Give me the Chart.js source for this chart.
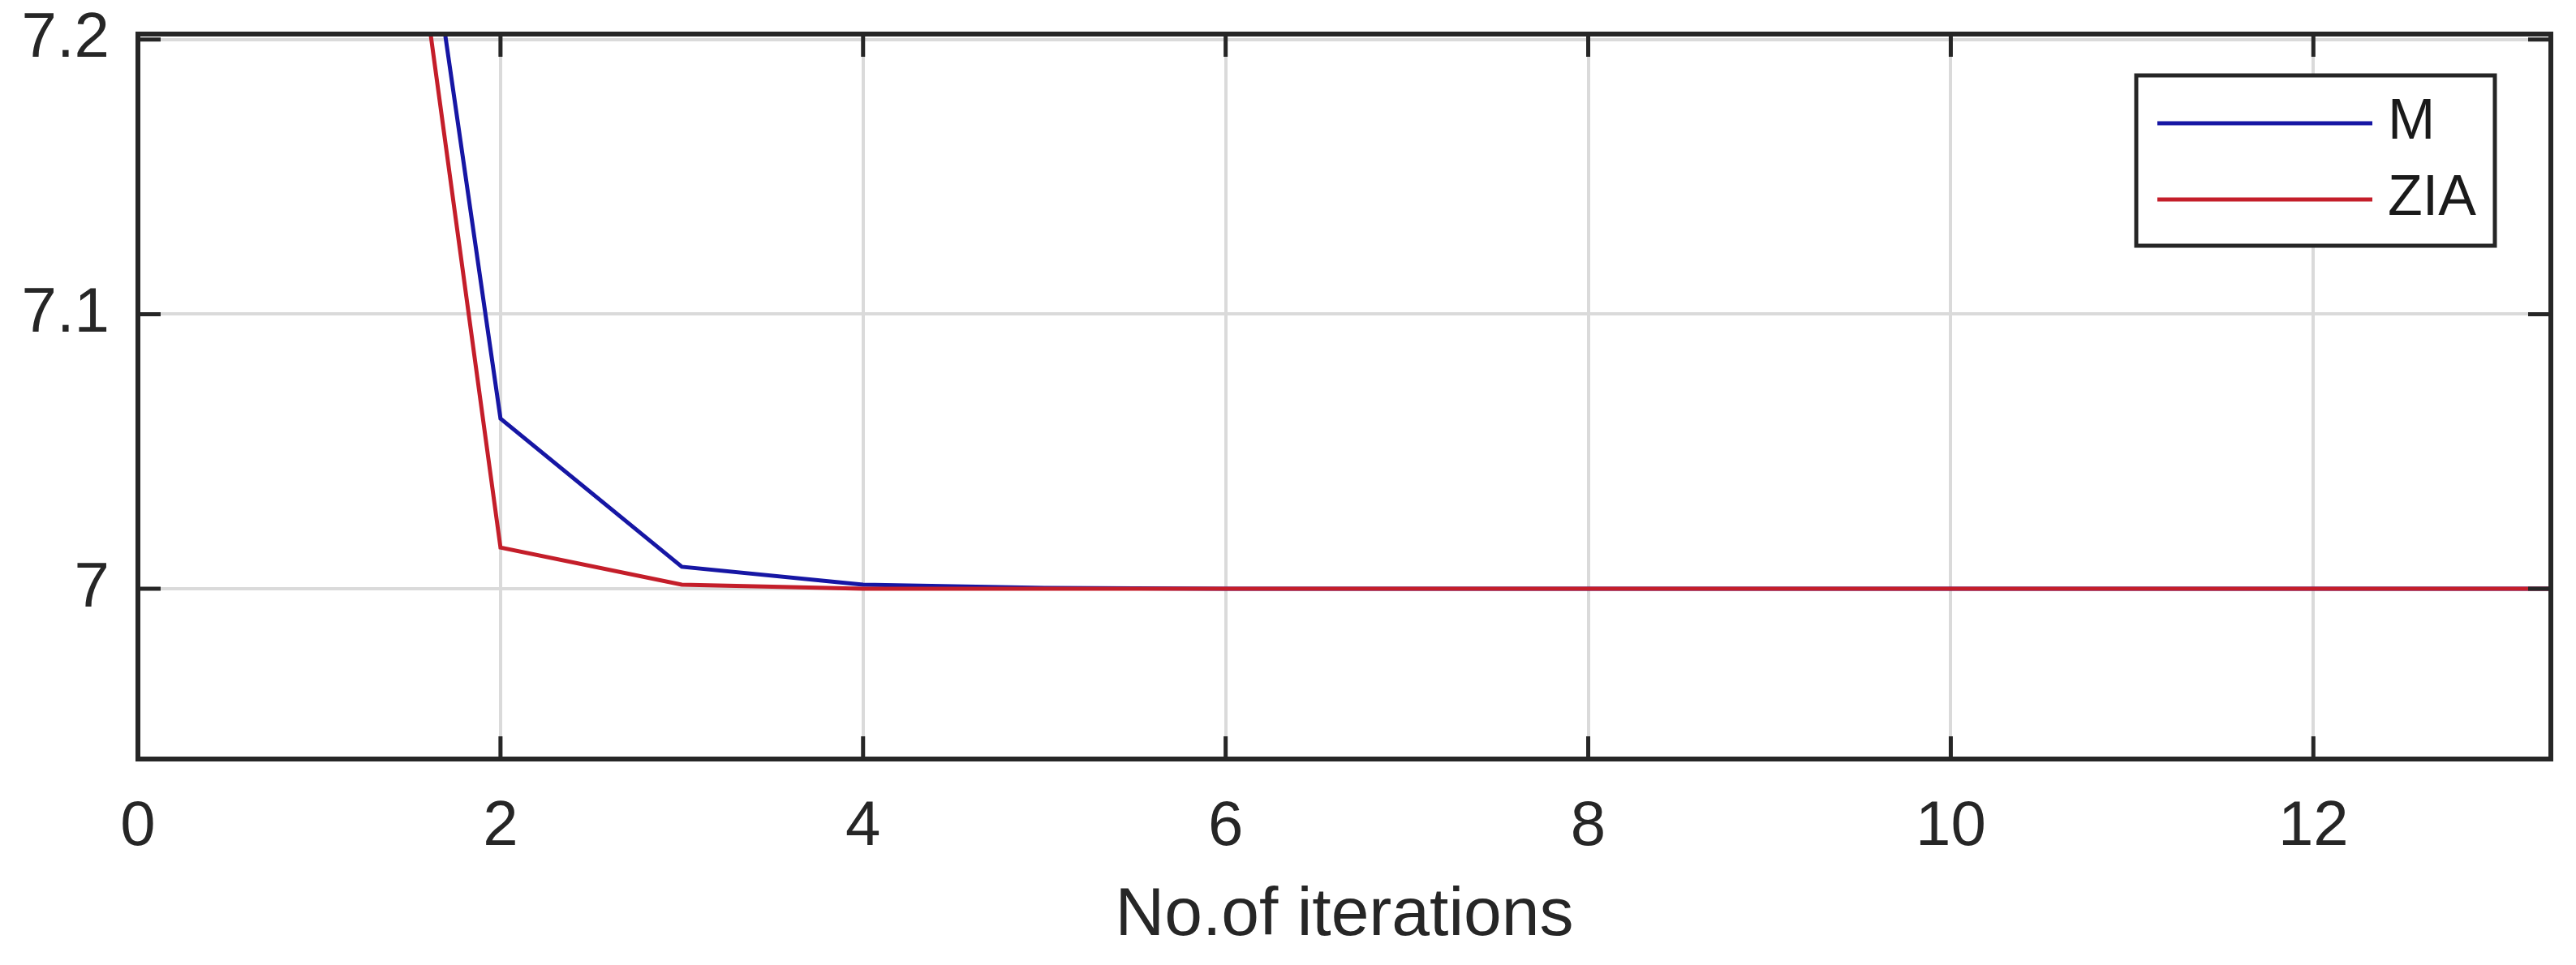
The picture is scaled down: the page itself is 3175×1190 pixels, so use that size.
<!DOCTYPE html>
<html>
<head>
<meta charset="utf-8">
<script src="https://cdn.jsdelivr.net/npm/chart.js@4.4.1/dist/chart.umd.min.js"></script>
<style>
  html, body { margin: 0; padding: 0; background: #ffffff; overflow: hidden; }
  canvas { display: block; }
</style>
</head>
<body>
<canvas id="chart" width="3175" height="1190"></canvas>
<script>
// ---- data ----
const iterations = [1, 2, 3, 4, 5, 6, 7, 8, 9, 10, 11, 12, 13, 14];
const seriesM    = [7.52, 7.062, 7.008, 7.0015, 7.0003, 7, 7, 7, 7, 7, 7, 7, 7, 7];
const seriesZIA  = [7.50, 7.015, 7.0015, 7.0, 7, 7, 7, 7, 7, 7, 7, 7, 7, 7];
const seriesLabels = ['M', 'ZIA'];
const xTickValues = [0, 2, 4, 6, 8, 10, 12];
const yTickValues = [7, 7.1, 7.2];
const xRange = [0, 13.31];
const yRange = [6.938, 7.202];
const xTitle = 'No.of iterations';

// ---- styling ----
const FONT = '"Liberation Sans", Arial, Helvetica, sans-serif';
const AXIS_COLOR = '#262626';
const colorM = '#1616a4';
const colorZIA = '#c41e2a';

const toPoints = (xs, ys) => xs.map((x, i) => ({ x: x, y: ys[i] }));

const axesPlugin = {
  id: 'axesPlugin',
  beforeDraw(chart) {
    const ctx = chart.ctx;
    ctx.save();
    ctx.fillStyle = '#ffffff';
    ctx.fillRect(0, 0, chart.width, chart.height);
    ctx.restore();
  },
  afterDatasetsDraw(chart) {
    const { ctx, chartArea: ca, scales } = chart;
    ctx.save();
    // inward tick marks on all four sides (MATLAB box style)
    const tl = 28;
    ctx.strokeStyle = AXIS_COLOR;
    ctx.lineWidth = 5;
    ctx.beginPath();
    scales.x.ticks.forEach(t => {
      const p = scales.x.getPixelForValue(t.value);
      ctx.moveTo(p, ca.bottom); ctx.lineTo(p, ca.bottom - tl);
      ctx.moveTo(p, ca.top); ctx.lineTo(p, ca.top + tl);
    });
    scales.y.ticks.forEach(t => {
      const p = scales.y.getPixelForValue(t.value);
      ctx.moveTo(ca.left, p); ctx.lineTo(ca.left + tl, p);
      ctx.moveTo(ca.right, p); ctx.lineTo(ca.right - tl, p);
    });
    ctx.stroke();
    // axes box
    ctx.lineWidth = 6;
    ctx.strokeRect(ca.left, ca.top, ca.right - ca.left, ca.bottom - ca.top);

    // legend (inside, top-right)
    const w = 442, h = 210;
    const lx = ca.right - 69 - w;
    const ly = ca.top + 51;
    ctx.fillStyle = '#ffffff';
    ctx.fillRect(lx, ly, w, h);
    ctx.lineWidth = 5;
    ctx.strokeStyle = AXIS_COLOR;
    ctx.strokeRect(lx, ly, w, h);
    chart.data.datasets.forEach((ds, i) => {
      const y = ly + 59 + i * 94;
      ctx.strokeStyle = ds.borderColor;
      ctx.lineWidth = ds.borderWidth;
      ctx.beginPath();
      ctx.moveTo(lx + 26, y);
      ctx.lineTo(lx + 291, y);
      ctx.stroke();
      ctx.fillStyle = '#1a1a1a';
      ctx.font = '70px ' + FONT;
      ctx.textBaseline = 'middle';
      ctx.textAlign = 'left';
      ctx.fillText(ds.label, lx + 310, y);
    });
    ctx.restore();
  }
};

new Chart(document.getElementById('chart'), {
  type: 'line',
  data: {
    datasets: [
      {
        label: seriesLabels[0],
        data: toPoints(iterations, seriesM),
        borderColor: colorM,
        backgroundColor: colorM,
        borderWidth: 5,
        pointRadius: 0,
        tension: 0,
        fill: false,
        clip: 0,
        order: 1
      },
      {
        label: seriesLabels[1],
        data: toPoints(iterations, seriesZIA),
        borderColor: colorZIA,
        backgroundColor: colorZIA,
        borderWidth: 5,
        pointRadius: 0,
        tension: 0,
        fill: false,
        clip: 0,
        order: 0
      }
    ]
  },
  options: {
    responsive: false,
    devicePixelRatio: 1,
    animation: false,
    events: [],
    layout: {
      autoPadding: false,
      padding: { top: 42, right: 31, left: 0, bottom: 0 }
    },
    plugins: {
      legend: { display: false },
      tooltip: { enabled: false },
      title: { display: false }
    },
    scales: {
      x: {
        type: 'linear',
        min: xRange[0],
        max: xRange[1],
        afterBuildTicks(scale) {
          scale.ticks = xTickValues.map(v => ({ value: v }));
        },
        afterFit(scale) {
          scale.height = 254;
          scale.paddingLeft = 0;
          scale.paddingRight = 0;
        },
        ticks: {
          color: AXIS_COLOR,
          font: { family: FONT, size: 78 },
          padding: 38,
          maxRotation: 0,
          autoSkip: false,
          callback: v => String(v)
        },
        grid: {
          color: '#dadada',
          lineWidth: 4,
          drawTicks: false
        },
        border: { display: false },
        title: {
          display: true,
          text: xTitle,
          color: AXIS_COLOR,
          font: { family: FONT, size: 84 },
          padding: { top: 0, bottom: 10 }
        }
      },
      y: {
        type: 'linear',
        min: yRange[0],
        max: yRange[1],
        afterBuildTicks(scale) {
          scale.ticks = yTickValues.map(v => ({ value: v }));
        },
        afterFit(scale) {
          scale.width = 170;
          scale.paddingTop = 0;
          scale.paddingBottom = 0;
        },
        ticks: {
          color: AXIS_COLOR,
          font: { family: FONT, size: 78 },
          padding: 35,
          autoSkip: false,
          callback: v => String(v)
        },
        grid: {
          color: '#dadada',
          lineWidth: 4,
          drawTicks: false
        },
        border: { display: false }
      }
    }
  },
  plugins: [axesPlugin]
});
</script>
</body>
</html>
